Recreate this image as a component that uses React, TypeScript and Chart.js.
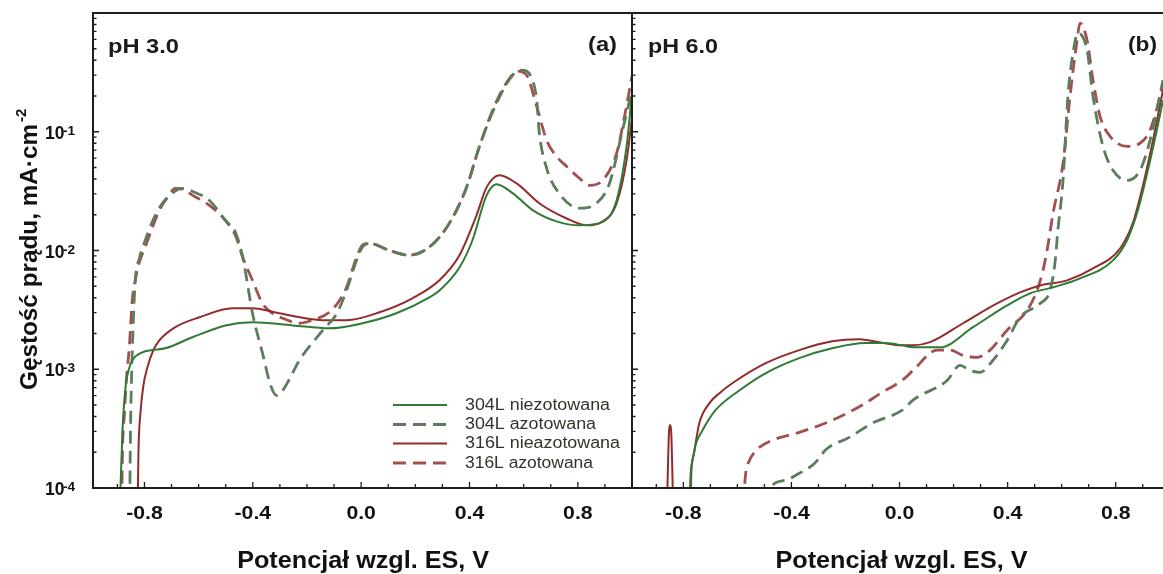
import { useEffect, useRef } from 'react';
import { Chart, registerables } from 'chart.js';

Chart.register(...registerables);

// ---------------- DATA ----------------
// Potential (V vs. ES) and current density (mA·cm-2)

// pH 3.0 panel (a)
const ph3_304L_nit_V = [-0.893, -0.881, -0.870, -0.859, -0.845, -0.808, -0.772, -0.723, -0.623, -0.501, -0.401, -0.253, -0.117, 0.005, 0.13, 0.252, 0.289, 0.363, 0.411, 0.463, 0.5, 0.559, 0.633, 0.721, 0.806, 0.88, 0.943, 0.98, 1.0];
const ph3_304L_nit_I = [5e-5, 3.07e-4, 7.03e-4, 9.77e-4, 1.19e-3, 1.39e-3, 1.45e-3, 1.5e-3, 1.86e-3, 2.34e-3, 2.49e-3, 2.34e-3, 2.21e-3, 2.44e-3, 2.96e-3, 4.03e-3, 4.6e-3, 7.2e-3, 1.22e-2, 2.91e-2, 3.61e-2, 3.04e-2, 2.19e-2, 1.76e-2, 1.63e-2, 1.7e-2, 2.64e-2, 7.55e-2, 0.211];

const ph3_304L_az_V = [-0.855, -0.852, -0.848, -0.841, -0.834, -0.819, -0.797, -0.772, -0.744, -0.707, -0.659, -0.615, -0.56, -0.501, -0.464, -0.437, -0.401, -0.364, -0.334, -0.312, -0.29, -0.264, -0.228, -0.142, -0.09, -0.054, -0.017, 0.005, 0.031, 0.105, 0.178, 0.252, 0.326, 0.389, 0.437, 0.5, 0.559, 0.592, 0.633, 0.648, 0.658, 0.684, 0.732, 0.806, 0.869, 0.917, 0.965, 1.0];
const ph3_304L_az_I = [5e-5, 2.52e-4, 8.05e-4, 2.58e-3, 5.6e-3, 8.57e-3, 1.22e-2, 1.73e-2, 2.31e-2, 2.91e-2, 3.33e-2, 3.09e-2, 2.64e-2, 1.79e-2, 1.42e-2, 8.75e-3, 2.95e-3, 1.36e-3, 7.29e-4, 6.01e-4, 6.61e-4, 8.32e-4, 1.19e-3, 2.12e-3, 2.95e-3, 4.61e-3, 8.26e-3, 1.07e-2, 1.15e-2, 1.0e-2, 9.12e-3, 1.07e-2, 1.7e-2, 3.4e-2, 7.55e-2, 0.174, 0.299, 0.33, 0.272, 0.185, 0.097, 0.05, 0.03, 0.0227, 0.025, 0.0368, 0.103, 0.224];

const ph3_316L_nit_V = [-0.826, -0.822, -0.815, -0.804, -0.789, -0.767, -0.745, -0.686, -0.597, -0.475, -0.401, -0.302, -0.228, -0.143, -0.054, 0.068, 0.189, 0.289, 0.363, 0.426, 0.463, 0.511, 0.574, 0.659, 0.759, 0.833, 0.892, 0.943, 0.98, 1.0];
const ph3_316L_nit_I = [5e-5, 2.08e-4, 4.23e-4, 7.29e-4, 1.04e-3, 1.45e-3, 1.75e-3, 2.26e-3, 2.74e-3, 3.27e-3, 3.27e-3, 2.96e-3, 2.74e-3, 2.59e-3, 2.59e-3, 3.02e-3, 3.96e-3, 5.62e-3, 9.12e-3, 1.98e-2, 3.4e-2, 4.3e-2, 3.67e-2, 2.49e-2, 1.86e-2, 1.63e-2, 1.76e-2, 2.49e-2, 5.75e-2, 0.13];

const ph3_316L_az_V = [-0.885, -0.881, -0.874, -0.867, -0.856, -0.845, -0.834, -0.819, -0.797, -0.772, -0.745, -0.715, -0.686, -0.659, -0.622, -0.56, -0.501, -0.464, -0.437, -0.401, -0.364, -0.327, -0.29, -0.228, -0.18, -0.117, -0.08, -0.054, -0.017, 0.005, 0.031, 0.105, 0.178, 0.252, 0.326, 0.389, 0.437, 0.493, 0.548, 0.578, 0.611, 0.648, 0.685, 0.721, 0.758, 0.806, 0.843, 0.891, 0.943, 0.973, 1.0];
const ph3_316L_az_I = [5e-5, 2.08e-4, 4.23e-4, 8.05e-4, 1.53e-3, 3.8e-3, 5.6e-3, 7.94e-3, 1.07e-2, 1.54e-2, 2.18e-2, 2.8e-2, 3.33e-2, 3.27e-2, 2.91e-2, 2.4e-2, 1.79e-2, 1.34e-2, 8.75e-3, 5.6e-3, 3.58e-3, 2.95e-3, 2.69e-3, 2.44e-3, 2.59e-3, 3.02e-3, 3.8e-3, 4.9e-3, 8.75e-3, 1.11e-2, 1.15e-2, 1.0e-2, 9.12e-3, 1.07e-2, 1.7e-2, 3.4e-2, 7.55e-2, 0.167, 0.282, 0.324, 0.299, 0.164, 8.47e-2, 6.21e-2, 5.12e-2, 4.06e-2, 3.54e-2, 3.89e-2, 6.58e-2, 0.137, 0.293];

// pH 6.0 panel (b)
const ph6_304L_nit_V = [-0.774, -0.77, -0.762, -0.755, -0.729, -0.681, -0.592, -0.496, -0.371, -0.249, -0.127, -0.053, 0.01, 0.05, 0.15, 0.272, 0.398, 0.483, 0.568, 0.668, 0.79, 0.842, 0.882, 0.919, 0.952, 0.975];
const ph6_304L_nit_I = [5e-5, 1.41e-4, 1.88e-4, 2.29e-4, 3.06e-4, 4.52e-4, 6.65e-4, 9.25e-4, 1.24e-3, 1.5e-3, 1.66e-3, 1.66e-3, 1.59e-3, 1.53e-3, 1.53e-3, 2.26e-3, 3.45e-3, 4.36e-3, 4.89e-3, 5.82e-3, 8.26e-3, 1.22e-2, 2.18e-2, 4.73e-2, 0.103, 0.184];

const ph6_304L_az_V = [-0.5, -0.478, -0.423, -0.371, -0.323, -0.297, -0.275, -0.186, -0.101, 0.01, 0.05, 0.176, 0.224, 0.261, 0.298, 0.346, 0.398, 0.446, 0.52, 0.557, 0.575, 0.586, 0.605, 0.623, 0.642, 0.66, 0.694, 0.716, 0.753, 0.79, 0.842, 0.89, 0.927, 0.975];
const ph6_304L_az_I = [5e-5, 1.0e-4, 1.16e-4, 1.33e-4, 1.55e-4, 1.78e-4, 2.08e-4, 2.67e-4, 3.51e-4, 4.52e-4, 5.5e-4, 8.05e-4, 1.08e-3, 9.77e-4, 9.42e-4, 1.19e-3, 1.75e-3, 2.74e-3, 3.58e-3, 4.61e-3, 7.8e-3, 1.48e-2, 3.89e-2, 0.199, 0.458, 0.676, 0.486, 0.199, 7.53e-2, 4.73e-2, 3.89e-2, 4.73e-2, 8.47e-2, 0.272];

const ph6_316L_nit_V = [-0.862, -0.857, -0.853, -0.849, -0.845, -0.841, -0.836, -0.778, -0.774, -0.766, -0.759, -0.741, -0.704, -0.663, -0.619, -0.497, -0.371, -0.249, -0.149, -0.075, 0.01, 0.05, 0.113, 0.235, 0.361, 0.446, 0.52, 0.62, 0.716, 0.816, 0.864, 0.901, 0.938, 0.975];
const ph6_316L_nit_I = [5e-5, 1.5e-4, 3.0e-4, 3.4e-4, 3.0e-4, 1.5e-4, 5e-5, 5e-5, 1.16e-4, 1.71e-4, 2.08e-4, 3.51e-4, 5.16e-4, 6.38e-4, 7.62e-4, 1.12e-3, 1.45e-3, 1.72e-3, 1.79e-3, 1.69e-3, 1.59e-3, 1.59e-3, 1.69e-3, 2.44e-3, 3.58e-3, 4.44e-3, 5.08e-3, 5.6e-3, 7.06e-3, 1.04e-2, 1.72e-2, 3.54e-2, 8.47e-2, 0.224];

const ph6_316L_az_V = [-0.582, -0.57, -0.555, -0.537, -0.519, -0.471, -0.371, -0.249, -0.127, -0.071, 0.01, 0.05, 0.139, 0.187, 0.235, 0.287, 0.335, 0.398, 0.472, 0.509, 0.531, 0.546, 0.568, 0.605, 0.631, 0.657, 0.668, 0.694, 0.716, 0.742, 0.779, 0.842, 0.89, 0.927, 0.975];
const ph6_316L_az_I = [5e-5, 1.28e-4, 1.71e-4, 2.0e-4, 2.2e-4, 2.52e-4, 2.94e-4, 3.72e-4, 5.16e-4, 6.27e-4, 8.07e-4, 9.77e-4, 1.45e-3, 1.45e-3, 1.31e-3, 1.26e-3, 1.45e-3, 2.13e-3, 3.13e-3, 4.61e-3, 6.81e-3, 1.0e-2, 2.05e-2, 5.41e-2, 0.199, 0.589, 0.822, 0.589, 0.272, 0.135, 9.16e-2, 7.53e-2, 8.0e-2, 0.103, 0.242];

// Labels / ticks
const SERIES_LABELS = ['304L niezotowana', '304L azotowana', '316L nieazotowana', '316L azotowana'];
const X_TICK_LABELS = [-0.8, -0.4, 0.0, 0.4, 0.8];
const DECADE_EXP = [-4, -3, -2, -1];
const X_TITLE = 'Potencjał wzgl. ES, V';
const Y_TITLE = 'Gęstość prądu, mA·cm';
const Y_TITLE_SUP = '-2';

// ---------------- STYLE ----------------
const W = 1163;
const H = 574;
const FONT = '"Liberation Sans", Arial, Helvetica, sans-serif';
const AXIS_COLOR = '#1e1e1e';
const COLORS = ['#2f7a35', '#5b7d5b', '#922b2b', '#a24f4f'];
const DASHED = [false, true, false, true];
const DASH = [13, 7];
const LEGEND_TEXT_W = [145, 131, 155, 128];

function pts(V: number[], I: number[]) {
  return V.map((v, i) => ({ x: v, y: I[i] }));
}

function makeDatasets(sets: { V: number[]; I: number[] }[]) {
  return sets.map((s, i) => ({
    label: SERIES_LABELS[i],
    data: pts(s.V, s.I),
    borderColor: COLORS[i],
    backgroundColor: COLORS[i],
    borderWidth: DASHED[i] ? 2.8 : 2,
    borderDash: DASHED[i] ? DASH : [],
    pointRadius: 0,
    fill: false,
    cubicInterpolationMode: 'monotone' as const,
  }));
}

function drawScaled(ctx: CanvasRenderingContext2D, text: string, x: number, y: number, opt: { width?: number; sx?: number; align?: 'left' | 'center' | 'right' }) {
  const w = ctx.measureText(text).width;
  const s = opt.width ? opt.width / w : opt.sx ?? 1;
  const align = opt.align ?? 'left';
  ctx.save();
  ctx.translate(x, y);
  const tw = w * s;
  const dx = align === 'center' ? -tw / 2 : align === 'right' ? -tw : 0;
  ctx.translate(dx, 0);
  ctx.scale(s, 1);
  ctx.textAlign = 'left';
  ctx.fillText(text, 0, 0);
  ctx.restore();
}

type DecorOpts = {
  yLabels: boolean;
  rightBorder: boolean;
  ph: string;
  phX: number;
  phW: number;
  letter: string;
  letterX: number;
  legend: boolean;
};

function decorPlugin(p: DecorOpts) {
  return {
    id: 'decor',
    afterDatasetsDraw(chart: any) {
      const { ctx, chartArea: a } = chart;
      const xs = chart.scales.x;
      const ys = chart.scales.y;
      ctx.save();
      ctx.strokeStyle = AXIS_COLOR;
      ctx.setLineDash([]);
      ctx.lineWidth = 2;
      ctx.beginPath();
      ctx.moveTo(a.left - 1, a.top);
      ctx.lineTo(a.right, a.top);
      ctx.moveTo(a.left - 1, a.bottom);
      ctx.lineTo(a.right, a.bottom);
      ctx.moveTo(a.left, a.top - 1);
      ctx.lineTo(a.left, a.bottom + 1);
      if (p.rightBorder) {
        ctx.moveTo(a.right, a.top - 1);
        ctx.lineTo(a.right, a.bottom + 1);
      }
      ctx.stroke();

      // ticks (inward)
      ctx.lineWidth = 1.3;
      ctx.beginPath();
      for (let i = -9; i <= 9; i++) {
        const px = xs.getPixelForValue(i / 10);
        if (px <= a.left + 1 || px >= a.right - 1) continue;
        const len = i % 4 === 0 ? 6 : 4;
        ctx.moveTo(px, a.bottom);
        ctx.lineTo(px, a.bottom - len);
      }
      for (const e of DECADE_EXP) {
        for (let k = 1; k <= 9; k++) {
          const v = k * Math.pow(10, e);
          const py = ys.getPixelForValue(v);
          const len = k === 1 ? 6 : 3.5;
          ctx.moveTo(a.left, py);
          ctx.lineTo(a.left + len, py);
        }
      }
      ctx.stroke();

      // x tick labels
      ctx.fillStyle = '#111';
      ctx.textBaseline = 'alphabetic';
      ctx.font = `bold 18px ${FONT}`;
      for (const v of X_TICK_LABELS) {
        const px = xs.getPixelForValue(v);
        drawScaled(ctx, v.toFixed(1), px, a.bottom + 31, { sx: 1.18, align: 'center' });
      }

      // x title
      ctx.font = `bold 23px ${FONT}`;
      drawScaled(ctx, X_TITLE, xs.getPixelForValue(0) + 2, 568, { width: 252, align: 'center' });

      // y labels & title
      if (p.yLabels) {
        for (const e of DECADE_EXP) {
          const py = ys.getPixelForValue(Math.pow(10, e));
          ctx.font = `bold 19px ${FONT}`;
          drawScaled(ctx, '10', 45, py + 7, { sx: 0.92 });
          ctx.font = `bold 13px ${FONT}`;
          drawScaled(ctx, String(e), 63, py + 3, { sx: 1.05 });
        }
        ctx.save();
        ctx.translate(37, 390);
        ctx.rotate(-Math.PI / 2);
        ctx.font = `bold 24px ${FONT}`;
        drawScaled(ctx, Y_TITLE, 0, 0, { width: 266 });
        ctx.font = `bold 15px ${FONT}`;
        drawScaled(ctx, Y_TITLE_SUP, 268, -11, { sx: 1.0 });
        ctx.restore();
      }

      // panel labels
      ctx.fillStyle = '#1a1a1a';
      ctx.font = `bold 20px ${FONT}`;
      drawScaled(ctx, p.ph, p.phX, 53, { width: p.phW });
      drawScaled(ctx, p.letter, p.letterX, 51, { width: 29 });

      // legend
      if (p.legend) {
        const rows = [405, 424.5, 443.5, 463];
        for (let i = 0; i < 4; i++) {
          ctx.strokeStyle = COLORS[i];
          ctx.lineWidth = DASHED[i] ? 2.8 : 2;
          ctx.setLineDash(DASHED[i] ? DASH : []);
          ctx.beginPath();
          ctx.moveTo(393, rows[i]);
          ctx.lineTo(DASHED[i] ? 453 : 447, rows[i]);
          ctx.stroke();
          ctx.setLineDash([]);
          ctx.fillStyle = '#33332b';
          ctx.font = `16px ${FONT}`;
          ctx.textBaseline = 'middle';
          drawScaled(ctx, SERIES_LABELS[i], 465, rows[i] + 0.5, { width: LEGEND_TEXT_W[i] });
          ctx.textBaseline = 'alphabetic';
        }
      }
      ctx.restore();
    },
  };
}

function makeConfig(datasets: any[], xmin: number, xmax: number, padding: any, decor: DecorOpts): any {
  return {
    type: 'line',
    data: { datasets },
    options: {
      animation: false,
      responsive: false,
      devicePixelRatio: 1,
      events: [],
      layout: { padding },
      plugins: {
        legend: { display: false },
        tooltip: { enabled: false },
        title: { display: false },
      },
      scales: {
        x: { type: 'linear', min: xmin, max: xmax, display: false },
        y: { type: 'logarithmic', min: 1e-4, max: 1, display: false },
      },
    },
    plugins: [decorPlugin(decor)],
  };
}

export default function App() {
  const leftRef = useRef<HTMLCanvasElement>(null);
  const rightRef = useRef<HTMLCanvasElement>(null);

  useEffect(() => {
    const left = new Chart(
      leftRef.current as HTMLCanvasElement,
      makeConfig(
        makeDatasets([
          { V: ph3_304L_nit_V, I: ph3_304L_nit_I },
          { V: ph3_304L_az_V, I: ph3_304L_az_I },
          { V: ph3_316L_nit_V, I: ph3_316L_nit_I },
          { V: ph3_316L_az_V, I: ph3_316L_az_I },
        ]),
        -0.99,
        1.0,
        { left: 93, right: W - 632, top: 13, bottom: H - 488 },
        { yLabels: true, rightBorder: true, ph: 'pH 3.0', phX: 108, phW: 71, letter: '(a)', letterX: 588, legend: true }
      )
    );
    const right = new Chart(
      rightRef.current as HTMLCanvasElement,
      makeConfig(
        makeDatasets([
          { V: ph6_304L_nit_V, I: ph6_304L_nit_I },
          { V: ph6_304L_az_V, I: ph6_304L_az_I },
          { V: ph6_316L_nit_V, I: ph6_316L_nit_I },
          { V: ph6_316L_az_V, I: ph6_316L_az_I },
        ]),
        -0.99,
        0.975,
        { left: 632, right: 0, top: 13, bottom: H - 488 },
        { yLabels: false, rightBorder: false, ph: 'pH 6.0', phX: 648, phW: 70, letter: '(b)', letterX: 1128, legend: false }
      )
    );
    return () => {
      left.destroy();
      right.destroy();
    };
  }, []);

  return (
    <div style={{ position: 'fixed', left: 0, top: 0, width: W, height: H, background: '#fff', overflow: 'hidden' }}>
      <canvas ref={leftRef} width={W} height={H} style={{ position: 'absolute', left: 0, top: 0, width: W, height: H }} />
      <canvas ref={rightRef} width={W} height={H} style={{ position: 'absolute', left: 0, top: 0, width: W, height: H }} />
    </div>
  );
}
